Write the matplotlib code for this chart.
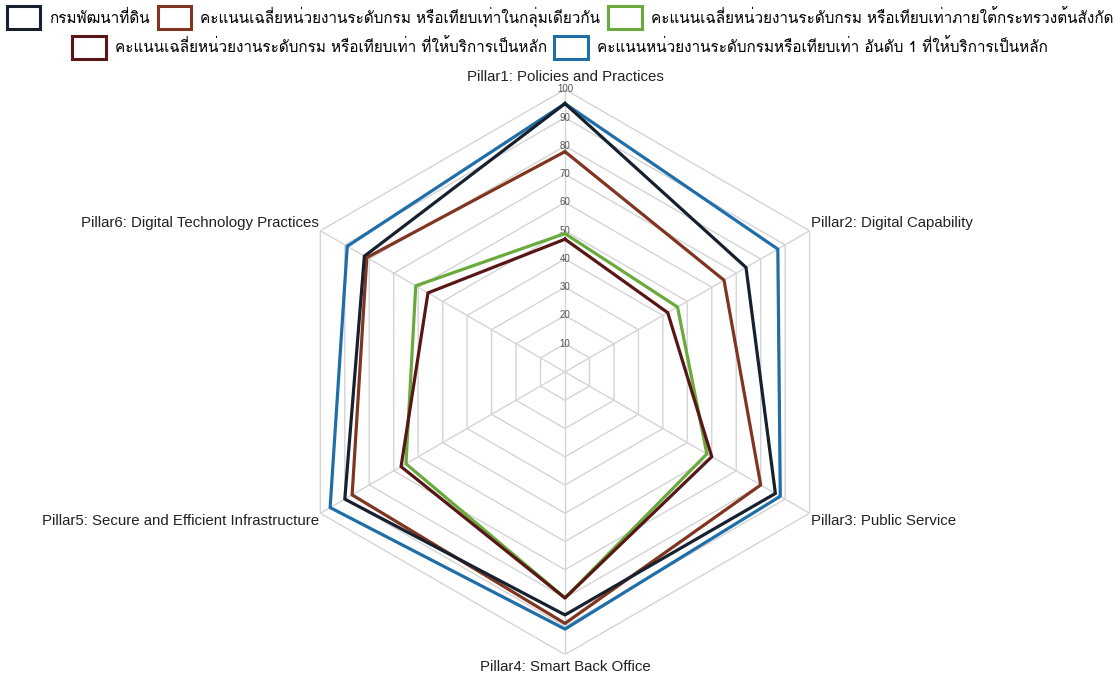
import numpy as np
import matplotlib
matplotlib.use('Agg')
import matplotlib.pyplot as plt
from matplotlib import font_manager
from matplotlib.ft2font import FT2Font
from matplotlib.patches import Patch

# Data
pillars = ['Pillar1: Policies and Practices', 'Pillar2: Digital Capability',
           'Pillar3: Public Service', 'Pillar4: Smart Back Office',
           'Pillar5: Secure and Efficient Infrastructure',
           'Pillar6: Digital Technology Practices']
series_names = ['กรมพัฒนาที่ดิน',
                'คะแนนเฉลี่ยหน่วยงานระดับกรม หรือเทียบเท่าในกลุ่มเดียวกัน',
                'คะแนนเฉลี่ยหน่วยงานระดับกรม หรือเทียบเท่าภายใต้กระทรวงต้นสังกัด',
                'คะแนนเฉลี่ยหน่วยงานระดับกรม หรือเทียบเท่า ที่ให้บริการเป็นหลัก',
                'คะแนนหน่วยงานระดับกรมหรือเทียบเท่า อันดับ 1 ที่ให้บริการเป็นหลัก']
dept = [95, 74, 86, 86, 90, 82]
group_avg = [78, 65, 80, 89, 87, 81]
ministry_avg = [49, 46, 58, 80, 65, 61]
service_avg = [47, 42, 60, 80, 67, 56]
top1 = [95, 87, 88, 91, 96, 89]
levels = [10, 20, 30, 40, 50, 60, 70, 80, 90, 100]

colors = ['#17202e', '#803520', '#6aaa3c', '#581616', '#1f6ea8']


def thai_family():
    for f in font_manager.fontManager.ttflist:
        try:
            if 0x0E01 in FT2Font(f.fname).get_charmap():
                return f.name
        except Exception:
            pass
    return 'DejaVu Sans'


thai = thai_family()
plt.rcParams['font.family'] = ['Liberation Sans', thai, 'DejaVu Sans']

fig = plt.figure(figsize=(11.2, 6.79), dpi=100)
ax = fig.add_axes([0.2522, 0.0361, 0.5045, 0.8321], projection='polar')
ax.set_theta_offset(np.pi / 2)
ax.set_theta_direction(-1)
ax.set_ylim(0, 100)
ax.grid(False)
ax.spines['polar'].set_visible(False)
ax.set_xticks([])
ax.set_yticks([])

n = len(pillars)
theta = np.linspace(0, 2 * np.pi, n, endpoint=False)
theta_c = np.append(theta, theta[0])

# hexagon grid
for lv in levels:
    ax.plot(theta_c, [lv] * (n + 1), color='#d4d4d4', lw=1, zorder=1)
for t in theta:
    ax.plot([t, t], [0, 100], color='#d4d4d4', lw=1, zorder=1)
for lv in levels:
    ax.text(0, lv, str(lv), ha='center', va='center', fontsize=7,
            color='#555555', zorder=2)

all_series = [dept, group_avg, ministry_avg, service_avg, top1]
zo = [7, 5, 4, 6, 3]
for vals, c, z in zip(all_series, colors, zo):
    ax.plot(theta_c, vals + vals[:1], color=c, lw=2.3, zorder=z)

# axis labels
lab_pos = [(0, 102, 'center', 'bottom'), (theta[1], 100.5, 'left', 'bottom'),
           (theta[2], 100.5, 'left', 'top'), (theta[3], 102, 'center', 'top'),
           (theta[4], 100.5, 'right', 'top'), (theta[5], 100.5, 'right', 'bottom')]
for name, (t, r, ha, va) in zip(pillars, lab_pos):
    ax.text(t, r, name, ha=ha, va=va, fontsize=10.8, color='#222222')

handles = [Patch(facecolor='white', edgecolor=c, lw=2.2) for c in colors]
kw = dict(frameon=False, handlelength=2.2, handleheight=1.9, handletextpad=0.6,
          columnspacing=0.5, prop={'family': [thai, 'DejaVu Sans'], 'size': 11})
fig.legend(handles[:3], series_names[:3], loc='center', bbox_to_anchor=(0.5, 0.974),
           ncol=3, **kw)
fig.legend(handles[3:], series_names[3:], loc='center', bbox_to_anchor=(0.5, 0.93),
           ncol=2, **kw)

fig.savefig('out.png', dpi=100)
